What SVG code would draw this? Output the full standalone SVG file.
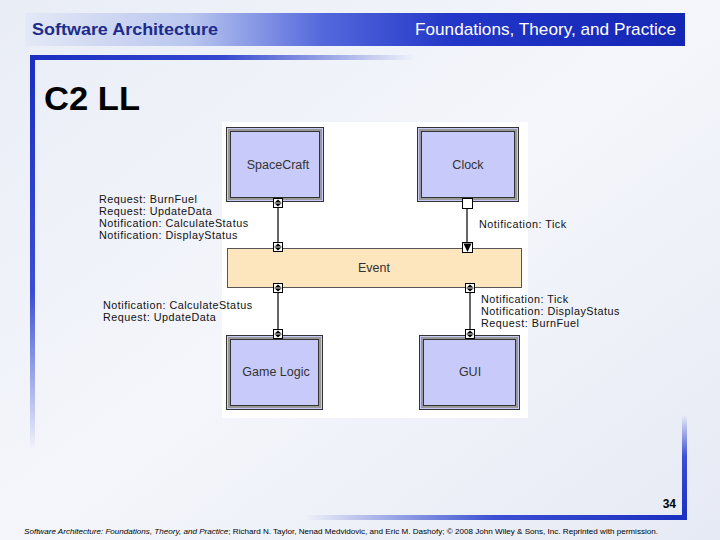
<svg xmlns="http://www.w3.org/2000/svg" width="720" height="540" viewBox="0 0 720 540">
<defs>
<linearGradient id="bg" x1="0" y1="0" x2="1" y2="1">
<stop offset="0" stop-color="#e9edf6"/><stop offset="0.5" stop-color="#f4f6fb"/><stop offset="1" stop-color="#e6eaf4"/>
</linearGradient>
<linearGradient id="hdr" x1="0" y1="0" x2="1" y2="0">
<stop offset="0" stop-color="#e4e9f6"/><stop offset="0.25" stop-color="#b9c6ee"/><stop offset="0.45" stop-color="#5468dc"/><stop offset="0.65" stop-color="#2236c8"/><stop offset="1" stop-color="#1326b4"/>
</linearGradient>
<linearGradient id="topline" x1="0" y1="0" x2="1" y2="0">
<stop offset="0" stop-color="#1a2ec0"/><stop offset="0.5" stop-color="#3548cf"/><stop offset="1" stop-color="#3548cf" stop-opacity="0"/>
</linearGradient>
<linearGradient id="leftline" x1="0" y1="0" x2="0" y2="1">
<stop offset="0" stop-color="#1a2ec0"/><stop offset="0.6" stop-color="#3a4fd2"/><stop offset="1" stop-color="#3a4fd2" stop-opacity="0"/>
</linearGradient>
<linearGradient id="botline" x1="1" y1="0" x2="0" y2="0">
<stop offset="0" stop-color="#1a2ec0"/><stop offset="0.5" stop-color="#3a4fd2"/><stop offset="1" stop-color="#3a4fd2" stop-opacity="0"/>
</linearGradient>
<linearGradient id="rightline" x1="0" y1="1" x2="0" y2="0">
<stop offset="0" stop-color="#1a2ec0"/><stop offset="0.6" stop-color="#3a4fd2"/><stop offset="1" stop-color="#3a4fd2" stop-opacity="0"/>
</linearGradient>
<g id="bport">
<rect x="-4.5" y="-4.5" width="9" height="9" fill="#fff" stroke="#000" stroke-width="1"/>
<path d="M-3,-0.8 L0,-3.6 L3,-0.8 Z M-3,0.8 L0,3.6 L3,0.8 Z" fill="#000"/>
<line x1="-3.5" y1="0" x2="3.5" y2="0" stroke="#000" stroke-width="0.8"/>
</g>
</defs>
<style>
.t{font-family:"Liberation Sans",Arial,sans-serif;}
.lbl{font-family:"Liberation Sans",Arial,sans-serif;font-size:10.8px;letter-spacing:0.5px;fill:#111;}
.nl{font-family:"Liberation Sans",Arial,sans-serif;font-size:12.5px;fill:#333;text-anchor:middle;}
.comp{fill:#c8cbfa;stroke:#333;stroke-width:1;}
.compIn{fill:none;stroke:#333;stroke-width:1;}
.compMid{fill:none;stroke:#999;stroke-width:2;}
.wire{stroke:#000;stroke-width:1.2;fill:none;}
</style>
<rect width="720" height="540" fill="url(#bg)"/>
<rect x="25" y="13" width="660" height="33" fill="url(#hdr)"/>
<text class="t" x="32" y="35" font-size="17" font-weight="bold" fill="#1c2c8c" textLength="186" lengthAdjust="spacingAndGlyphs">Software Architecture</text>
<text class="t" x="415" y="35" font-size="17" fill="#fff" textLength="261" lengthAdjust="spacingAndGlyphs">Foundations, Theory, and Practice</text>
<rect x="30" y="55" width="385" height="5" fill="url(#topline)"/>
<rect x="30" y="55" width="5" height="395" fill="url(#leftline)"/>
<rect x="305" y="515" width="382" height="5" fill="url(#botline)"/>
<rect x="682" y="415" width="5" height="105" fill="url(#rightline)"/>
<text class="t" x="44" y="110" font-size="33" font-weight="bold" fill="#000" textLength="96" lengthAdjust="spacingAndGlyphs">C2 LL</text>
<text class="t" x="676" y="508" font-size="12" font-weight="bold" fill="#000" text-anchor="end">34</text>
<text class="t" x="24" y="534" font-size="7" fill="#000" textLength="634" lengthAdjust="spacingAndGlyphs"><tspan font-style="italic">Software Architecture: Foundations, Theory, and Practice</tspan>; Richard N. Taylor, Nenad Medvidovic, and Eric M. Dashofy; © 2008 John Wiley &amp; Sons, Inc. Reprinted with permission.</text>
<rect x="222" y="122" width="306" height="296" fill="#fff"/>
<g id="connectors">
<line class="wire" x1="278" y1="207" x2="278" y2="243"/>
<line class="wire" x1="467" y1="208" x2="467" y2="242"/>
<line class="wire" x1="278" y1="291" x2="278" y2="330"/>
<line class="wire" x1="470" y1="291" x2="470" y2="330"/>
</g>
<g id="spacecraft">
<rect class="comp" x="226.5" y="127.5" width="97" height="74"/>
<rect class="compMid" x="229" y="130" width="92" height="69"/>
<rect class="compIn" x="230.5" y="131.5" width="89" height="66"/>
<text class="nl" x="278" y="169">SpaceCraft</text>
<use href="#bport" x="278" y="203"/>
</g>
<g id="clock">
<rect class="comp" x="417.5" y="127.5" width="101" height="74"/>
<rect class="compMid" x="420" y="130" width="96" height="69"/>
<rect class="compIn" x="421.5" y="131.5" width="93" height="66"/>
<text class="nl" x="468" y="169">Clock</text>
<rect x="462.5" y="198.5" width="10" height="10" fill="#fff" stroke="#000"/>
</g>
<g id="event">
<rect x="227.5" y="248.5" width="294" height="39" fill="#fde5bd" stroke="#555" stroke-width="1"/>
<text class="nl" x="374" y="272">Event</text>
<use href="#bport" x="278" y="247"/>
<rect x="462.5" y="242.5" width="10" height="10" fill="#fff" stroke="#000"/>
<path d="M463.5,243.5 L471.5,243.5 L467.5,252 Z" fill="#000"/>
<use href="#bport" x="278" y="288"/>
<use href="#bport" x="470" y="288"/>
</g>
<g id="gamelogic">
<rect class="comp" x="226.5" y="335.5" width="96" height="74"/>
<rect class="compMid" x="229" y="338" width="91" height="69"/>
<rect class="compIn" x="230.5" y="339.5" width="88" height="66"/>
<text class="nl" x="276" y="376">Game Logic</text>
<use href="#bport" x="278" y="334"/>
</g>
<g id="gui">
<rect class="comp" x="419.5" y="335.5" width="100" height="74"/>
<rect class="compMid" x="422" y="338" width="95" height="69"/>
<rect class="compIn" x="423.5" y="339.5" width="92" height="66"/>
<text class="nl" x="470" y="376">GUI</text>
<use href="#bport" x="470" y="334"/>
</g>
<g id="labels">
<text class="lbl" x="99" y="203">Request: BurnFuel</text>
<text class="lbl" x="99" y="215">Request: UpdateData</text>
<text class="lbl" x="99" y="227">Notification: CalculateStatus</text>
<text class="lbl" x="99" y="239">Notification: DisplayStatus</text>
<text class="lbl" x="479" y="228">Notification: Tick</text>
<text class="lbl" x="103" y="309">Notification: CalculateStatus</text>
<text class="lbl" x="103" y="321">Request: UpdateData</text>
<text class="lbl" x="481" y="303">Notification: Tick</text>
<text class="lbl" x="481" y="315">Notification: DisplayStatus</text>
<text class="lbl" x="481" y="327">Request: BurnFuel</text>
</g>
</svg>
